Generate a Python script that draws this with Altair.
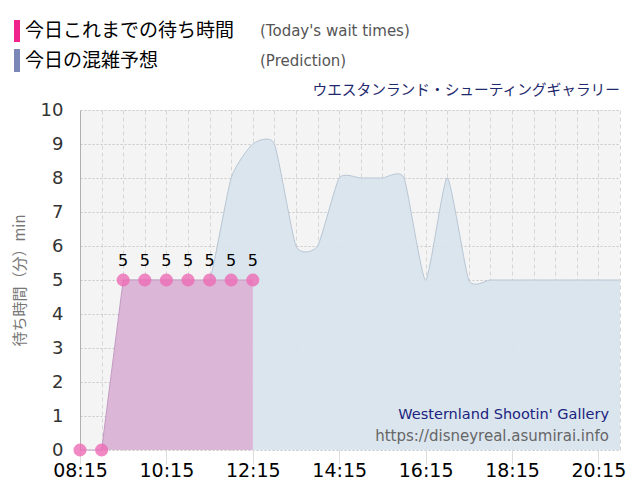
import altair as alt
import pandas as pd

# ---- data ----
actual_times = ["08:15", "08:45", "09:15", "09:45", "10:15", "10:45", "11:15", "11:45", "12:15"]
actual_values = [0, 0, 5, 5, 5, 5, 5, 5, 5]

pred_times = ["09:15", "09:45", "10:15", "10:45", "11:15", "11:45",
              "12:15", "12:45", "13:15", "13:45", "14:15", "14:45", "15:15", "15:45",
              "16:15", "16:45", "17:15", "17:45", "18:15", "18:45", "19:15", "19:45",
              "20:15", "20:45"]
pred_values = [5, 5, 5, 5, 5, 8,
               9, 9, 6, 6, 8, 8, 8, 8,
               5, 8, 5, 5, 5, 5, 5, 5,
               5, 5]

x_ticks = ["08:15", "08:45", "09:15", "09:45", "10:15", "10:45", "11:15", "11:45",
           "12:15", "12:45", "13:15", "13:45", "14:15", "14:45", "15:15", "15:45",
           "16:15", "16:45", "17:15", "17:45", "18:15", "18:45", "19:15", "19:45",
           "20:15", "20:45"]
y_ticks = [0, 1, 2, 3, 4, 5, 6, 7, 8, 9, 10]


def to_hours(s):
    h, m = s.split(":")
    return int(h) + int(m) / 60.0


actual_df = pd.DataFrame({"t": [to_hours(s) for s in actual_times], "v": actual_values})
pred_df = pd.DataFrame({"t": [to_hours(s) for s in pred_times], "v": pred_values})

JP = "Noto Sans CJK JP"
LAT = "DejaVu Sans"

label_expr = ("((datum.value - 8.25) % 2 == 0) ? "
              "((floor(datum.value) < 10 ? '0' : '') + floor(datum.value) + ':' + "
              "(round((datum.value % 1) * 60) < 10 ? '0' : '') + round((datum.value % 1) * 60)) : ''")

x_scale = alt.Scale(domain=[to_hours("08:15"), to_hours("20:45")], nice=False, zero=False)
y_scale = alt.Scale(domain=[0, 10], nice=False)

x_axis = alt.Axis(
    values=[to_hours(s) for s in x_ticks],
    labelExpr=label_expr,
    title=None,
    grid=True,
    gridColor="#d6d6d6",
    gridDash=[4, 3],
    gridWidth=1,
    domain=False,
    tickSize=14,
    tickColor="#dddddd",
    tickOpacity={"condition": {"test": "(datum.value - 8.25) % 2 == 0", "value": 1}, "value": 0},
    labelFont=LAT,
    labelFontSize=19,
    labelColor="#000000",
    labelPadding=-3,
    labelFlush=False,
    labelOverlap=False,
)

y_axis = alt.Axis(
    values=y_ticks,
    title="待ち時間（分）min",
    titleFont=JP,
    titleFontSize=15,
    titleFontWeight="normal",
    titleColor="#777777",
    titlePadding=13,
    grid=True,
    gridColor="#c8c8c8",
    gridDash=[2, 2],
    domain=True,
    domainColor="#b0b0b0",
    ticks=False,
    labelFont=LAT,
    labelFontSize=18,
    labelColor="#333333",
    labelPadding=17,
    labelOverlap=False,
)

X = alt.X("t:Q", scale=x_scale, axis=x_axis)
Y = alt.Y("v:Q", scale=y_scale, axis=y_axis)

base_pred = alt.Chart(pred_df)
pred_area = base_pred.mark_area(
    interpolate="cardinal", tension=0.45, color="#d9e4ed", opacity=0.95,
    line={"color": "#b7c6d4", "strokeWidth": 1}, clip=True
).encode(x=X, y=Y)

base_act = alt.Chart(actual_df)
act_area = base_act.mark_area(
    color="#dbb6d7", opacity=1,
    line={"color": "#c49bc3", "strokeWidth": 1}
).encode(x=X, y=Y)

act_points = base_act.mark_circle(size=170, color="#ec6cb5", opacity=0.8).encode(x=X, y=Y)

act_labels = base_act.transform_filter("datum.v > 0").mark_text(
    font=LAT, fontSize=16, color="#000000", dy=-19
).encode(x=X, y=Y, text="v:Q")

one = alt.Data(values=[{}])


def txt(text, x, y, size, color, font, align="left"):
    return alt.Chart(one).mark_text(
        text=text, font=font, fontSize=size, color=color, align=align, baseline="middle"
    ).encode(x=alt.value(x), y=alt.value(y))


legend_pink = alt.Chart(one).mark_rect(color="#f0228c").encode(
    x=alt.value(-66), x2=alt.value(-60), y=alt.value(-90), y2=alt.value(-68))
legend_blue = alt.Chart(one).mark_rect(color="#7b87b7").encode(
    x=alt.value(-66), x2=alt.value(-60), y=alt.value(-61), y2=alt.value(-38))

layers = [
    pred_area, act_area, act_points, act_labels,
    legend_pink, legend_blue,
    txt("今日これまでの待ち時間", -55, -79, 19, "#000000", JP),
    txt("今日の混雑予想", -55, -49, 19, "#000000", JP),
    txt("(Today's wait times)", 180, -79, 15, "#555555", LAT),
    txt("(Prediction)", 180, -49, 15, "#555555", LAT),
    txt("ウエスタンランド・シューティングギャラリー", 540, -19, 14.7, "#1f2a6e", JP, "right"),
    txt("Westernland Shootin' Gallery", 529, 305, 14.5, "#1a237e", LAT, "right"),
    txt("https://disneyreal.asumirai.info", 529, 326, 15, "#666666", LAT, "right"),
]

chart = alt.layer(*layers).properties(
    width=540, height=340,
    autosize=alt.AutoSizeParams(type="none"),
    padding={"left": 72, "top": 102, "right": 12, "bottom": 42},
    background="#ffffff",
).configure_view(fill="#f4f4f4", stroke=None)

chart.save("out.html", embed_options={"renderer": "svg", "actions": False})
